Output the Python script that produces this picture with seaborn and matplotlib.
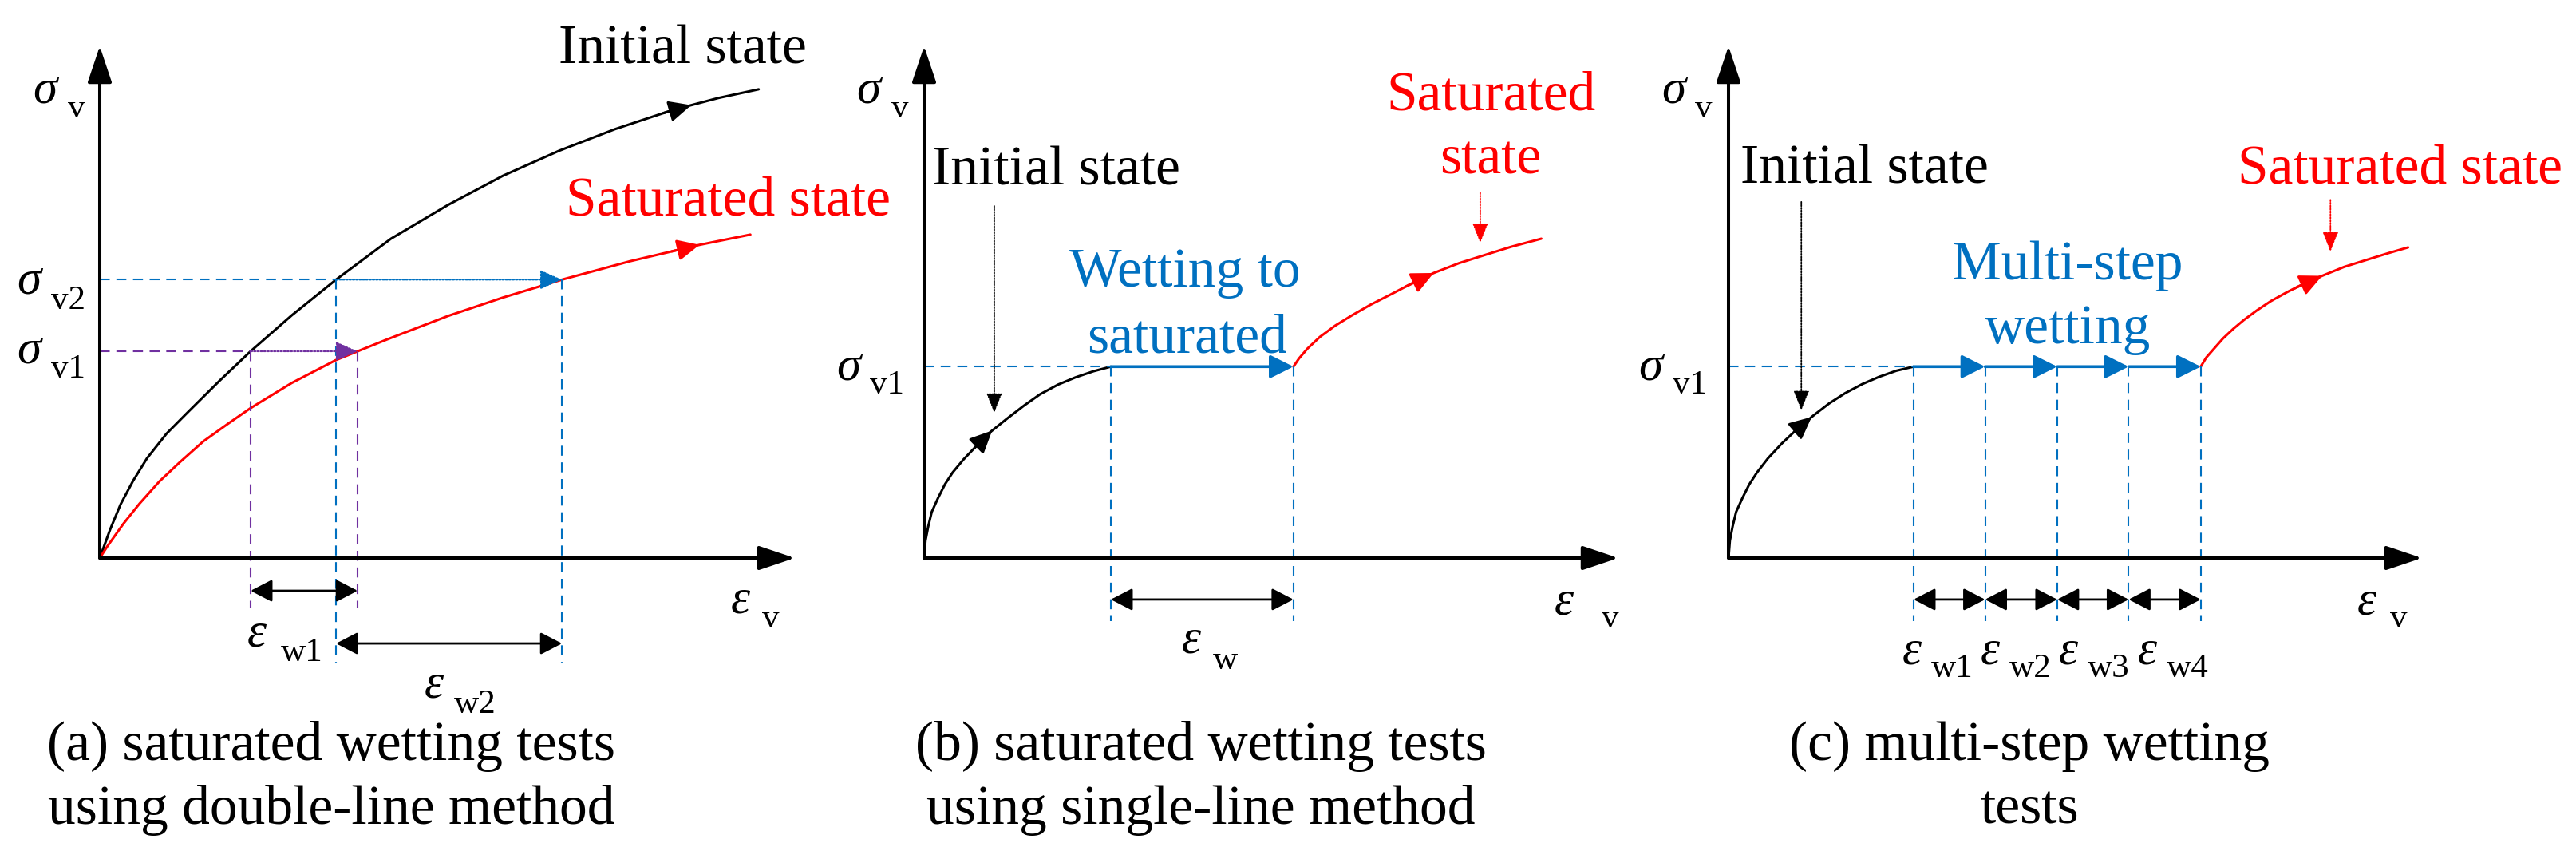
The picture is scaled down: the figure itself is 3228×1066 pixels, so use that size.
import numpy as np
import matplotlib
matplotlib.use("Agg")
import matplotlib.pyplot as plt
import seaborn as sns

W, H = 3228, 1066

# curve values in schematic units (axis tips sit at 10)
# (a) double-line method
a_init_strain = [0, 0.15, 0.30, 0.48, 0.68, 0.96, 1.26, 1.72, 2.17, 2.76, 3.40,
                 4.19, 5.01, 5.80, 6.61, 7.41, 8.23, 8.90, 9.48]
a_init_stress = [0, 0.56, 1.05, 1.51, 1.95, 2.43, 2.84, 3.46, 4.04, 4.74, 5.44,
                 6.24, 6.90, 7.47, 7.96, 8.38, 8.75, 8.99, 9.16]
a_sat_strain = [0, 0.11, 0.34, 0.57, 0.86, 1.15, 1.49, 1.84, 2.17, 2.76, 3.40,
                4.13, 5.01, 5.80, 6.65, 7.63, 8.63, 9.36]
a_sat_stress = [0, 0.23, 0.67, 1.06, 1.50, 1.87, 2.28, 2.62, 2.93, 3.42, 3.87,
                4.27, 4.73, 5.09, 5.44, 5.80, 6.12, 6.32]
a_sigma_levels = [4.04, 5.44]  # sigma_v1, sigma_v2

# (b) single-line method
b_init_strain = [0, 0.02, 0.06, 0.11, 0.20, 0.30, 0.41, 0.57, 0.76, 0.97, 1.20,
                 1.44, 1.67, 1.93, 2.18, 2.44, 2.69]
b_init_stress = [0, 0.34, 0.62, 0.90, 1.17, 1.44, 1.67, 1.93, 2.20, 2.48, 2.73,
                 2.98, 3.20, 3.39, 3.53, 3.65, 3.74]
b_sat_strain = [5.32, 5.40, 5.52, 5.70, 5.92, 6.16, 6.43, 6.72, 7.03, 7.34, 7.70,
                8.05, 8.45, 8.89]
b_sat_stress = [3.74, 3.90, 4.09, 4.32, 4.54, 4.74, 4.95, 5.15, 5.37, 5.57, 5.76,
                5.91, 6.08, 6.24]

# (c) multi-step wetting
c_init_strain = [0, 0.02, 0.06, 0.11, 0.20, 0.30, 0.41, 0.57, 0.77, 0.99, 1.22,
                 1.45, 1.68, 1.93, 2.17, 2.42, 2.67]
c_init_stress = [0, 0.34, 0.62, 0.90, 1.17, 1.44, 1.67, 1.95, 2.24, 2.52, 2.78,
                 3.02, 3.22, 3.40, 3.54, 3.66, 3.74]
c_step_strain = [2.67, 3.70, 4.74, 5.77, 6.81]
c_sat_strain = [6.81, 6.89, 7.00, 7.13, 7.28, 7.43, 7.62, 7.82, 8.06, 8.31, 8.57,
                8.88, 9.21, 9.52, 9.80]
c_sat_stress = [3.74, 3.92, 4.09, 4.29, 4.48, 4.65, 4.84, 5.02, 5.20, 5.37, 5.52,
                5.69, 5.83, 5.96, 6.07]

captions = [
    ("(a) saturated wetting tests", "using double-line method"),
    ("(b) saturated wetting tests", "using single-line method"),
    ("(c) multi-step wetting", "tests"),
]

BLACK, RED, BLUE, PURPLE = "black", "#FF0000", "#0070C0", "#7030A0"
TXT, GREEK, SUB = 50, 44, 31
DASH = (0, (6, 4))
DOT = (0, (1, 1))
SERIF = ["Liberation Serif", "DejaVu Serif"]

sns.set_style("white")
plt.rcParams["font.family"] = SERIF

fig = plt.figure(figsize=(W / 100, H / 100), dpi=100)


def px_text(x, y, s, size=TXT, color=BLACK, style="normal"):
    fig.text(x / W, 1 - y / H, s, fontsize=size, color=color, family=SERIF,
             ha="center", va="baseline", fontstyle=style)


def symbol(xs, ys, sym, xb, yb, sub):
    px_text(xs, ys, sym, size=GREEK, style="italic")
    px_text(xb, yb, sub, size=SUB)


def arrow(ax, start, end, color=BLACK, lw=2.0, hl=1.66, hw=0.86, ls="-", style="-|>"):
    ax.annotate("", xy=end, xytext=start, annotation_clip=False,
                arrowprops=dict(arrowstyle=f"{style},head_length={hl},head_width={hw}",
                                mutation_scale=10, color=color, lw=lw, linestyle=ls,
                                shrinkA=0, shrinkB=0))


def curve_arrow(ax, xs, ys, x_tip, back, color):
    tip = (x_tip, np.interp(x_tip, xs, ys))
    tail = (x_tip - back, np.interp(x_tip - back, xs, ys))
    arrow(ax, tail, tip, color=color, lw=2.2, hl=1.7, hw=0.8)


def guide(ax, xs, ys, color, ls=DASH, lw=1.5):
    ax.plot(xs, ys, color=color, lw=lw, ls=ls, clip_on=False)


def make_axes(x0, x1, y0=699, y1=58):
    ax = fig.add_axes([x0 / W, 1 - y0 / H, (x1 - x0) / W, (y0 - y1) / H])
    ax.axis("off")
    arrow(ax, (0, 0), (10, 0), lw=2.9, hl=2.8, hw=0.94)
    arrow(ax, (0, 0), (0, 10), lw=2.9, hl=2.8, hw=0.94)
    return ax


def finish(ax):
    ax.set_xlim(0, 10)
    ax.set_ylim(0, 10)


def draw_curve(ax, xs, ys, color):
    sns.lineplot(x=xs, y=ys, ax=ax, color=color, lw=2.2, sort=False,
                 estimator=None, clip_on=False)


# ---------------- (a) ----------------
ax = make_axes(125, 996)
draw_curve(ax, a_init_strain, a_init_stress, BLACK)
draw_curve(ax, a_sat_strain, a_sat_stress, RED)
curve_arrow(ax, a_init_strain, a_init_stress, 8.51, 0.4, BLACK)
curve_arrow(ax, a_sat_strain, a_sat_stress, 8.63, 0.4, RED)

v1, v2 = a_sigma_levels
xb1 = np.interp(v1, a_init_stress, a_init_strain)
xr1 = np.interp(v1, a_sat_stress, a_sat_strain)
xb2 = np.interp(v2, a_init_stress, a_init_strain)
xr2 = np.interp(v2, a_sat_stress, a_sat_strain)

guide(ax, [0, xb2], [v2, v2], BLUE)
arrow(ax, (xb2, v2), (xr2, v2), color=BLUE, lw=1.5, hl=1.7, hw=0.75, ls=DOT)
guide(ax, [0, xb1], [v1, v1], PURPLE)
arrow(ax, (xb1, v1), (xr1, v1), color=PURPLE, lw=1.5, hl=1.7, hw=0.75, ls=DOT)
for x in (xb1, xr1):
    guide(ax, [x, x], [v1, -0.97], PURPLE)
for x in (xb2, xr2):
    guide(ax, [x, x], [v2, -2.04], BLUE)
arrow(ax, (xb1, -0.64), (xr1, -0.64), style="<|-|>")
arrow(ax, (xb2, -1.67), (xr2, -1.67), style="<|-|>")
finish(ax)

px_text(855, 80, "Initial state")
px_text(912, 270, "Saturated state", color=RED)
symbol(56, 128, "σ", 96, 147, "v")
symbol(36, 367, "σ", 85, 387, "v2")
symbol(36, 455, "σ", 85, 473, "v1")
symbol(928, 768, "ε", 966, 786, "v")
symbol(322, 810, "ε", 378, 828, "w1")
symbol(544, 873, "ε", 595, 893, "w2")

# ---------------- (b) ----------------
ax = make_axes(1158, 2028)
draw_curve(ax, b_init_strain, b_init_stress, BLACK)
draw_curve(ax, b_sat_strain, b_sat_stress, RED)
curve_arrow(ax, b_init_strain, b_init_stress, 0.98, 0.25, BLACK)
curve_arrow(ax, b_sat_strain, b_sat_stress, 7.34, 0.4, RED)
lvl = b_init_stress[-1]
x_start, x_end = b_init_strain[-1], b_sat_strain[0]
guide(ax, [0, x_start], [lvl, lvl], BLUE)
arrow(ax, (x_start, lvl), (x_end, lvl), color=BLUE, lw=2.6, hl=1.8, hw=0.9)
for x in (x_start, x_end):
    guide(ax, [x, x], [lvl, -1.23], BLUE)
arrow(ax, (x_start, -0.81), (x_end, -0.81), style="<|-|>")
arrow(ax, (1.01, 6.88), (1.01, 2.84), lw=1.3, hl=1.5, hw=0.6, ls=DOT)
arrow(ax, (8.01, 7.14), (8.01, 6.16), color=RED, lw=1.3, hl=1.5, hw=0.6, ls=DOT)
finish(ax)

px_text(1323, 232, "Initial state")
px_text(1485, 359, "Wetting to", color=BLUE)
px_text(1488, 442, "saturated", color=BLUE)
px_text(1868, 138, "Saturated", color=RED)
px_text(1868, 218, "state", color=RED)
symbol(1088, 128, "σ", 1128, 147, "v")
symbol(1063, 475, "σ", 1112, 493, "v1")
symbol(1960, 769, "ε", 2018, 786, "v")
symbol(1493, 818, "ε", 1536, 838, "w")

# ---------------- (c) ----------------
ax = make_axes(2166, 3035)
draw_curve(ax, c_init_strain, c_init_stress, BLACK)
draw_curve(ax, c_sat_strain, c_sat_stress, RED)
curve_arrow(ax, c_init_strain, c_init_stress, 1.20, 0.25, BLACK)
curve_arrow(ax, c_sat_strain, c_sat_stress, 8.56, 0.4, RED)
lvl = c_init_stress[-1]
guide(ax, [0, c_step_strain[0]], [lvl, lvl], BLUE)
for x in c_step_strain:
    guide(ax, [x, x], [lvl, -1.23], BLUE)
for xa, xb in zip(c_step_strain[:-1], c_step_strain[1:]):
    arrow(ax, (xa, lvl), (xb, lvl), color=BLUE, lw=2.6, hl=1.8, hw=0.9)
    arrow(ax, (xa, -0.81), (xb, -0.81), style="<|-|>")
arrow(ax, (1.05, 6.96), (1.05, 2.89), lw=1.3, hl=1.5, hw=0.6, ls=DOT)
arrow(ax, (8.68, 7.00), (8.68, 5.99), color=RED, lw=1.3, hl=1.5, hw=0.6, ls=DOT)
finish(ax)

px_text(2336, 230, "Initial state")
px_text(2591, 350, "Multi-step", color=BLUE)
px_text(2591, 430, "wetting", color=BLUE)
px_text(3008, 230, "Saturated state", color=RED)
symbol(2097, 128, "σ", 2135, 147, "v")
symbol(2068, 475, "σ", 2117, 493, "v1")
symbol(2966, 769, "ε", 3006, 786, "v")
for i, (xe, xw) in enumerate(zip([2396, 2494, 2592, 2691], [2446, 2544, 2642, 2741])):
    symbol(xe, 832, "ε", xw, 848, f"w{i + 1}")

# captions
for cx, (line1, line2) in zip([415, 1505, 2543], captions):
    px_text(cx, 952, line1)
    px_text(cx, 1032, line2)

fig.savefig("out.png", dpi=100, facecolor="white")
